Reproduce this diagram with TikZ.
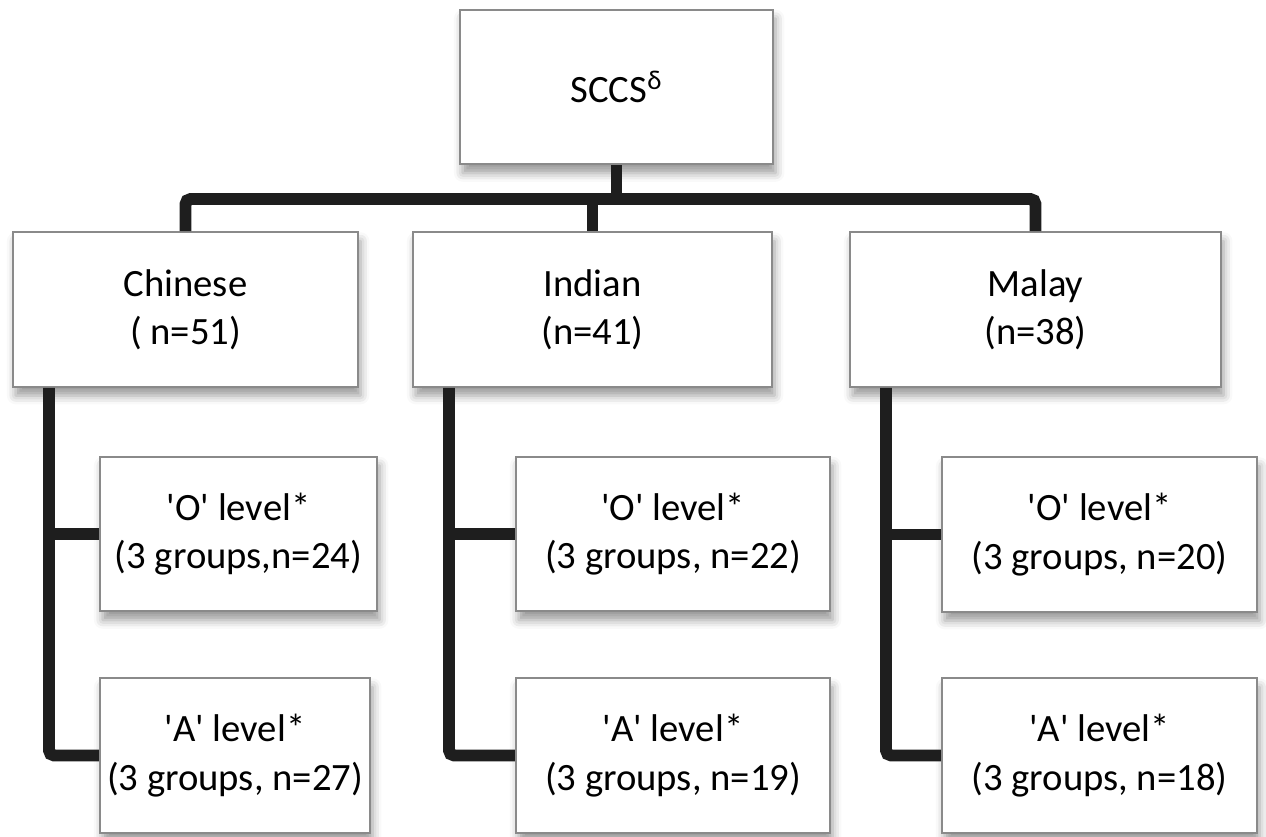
\documentclass[tikz,border=0pt]{standalone}
\usepackage{fontspec}
\setmainfont{Carlito}
\usetikzlibrary{positioning, shadows.blur}
\definecolor{boxgray}{HTML}{8A8A8A}
\definecolor{linkblack}{HTML}{1E1E1E}
\tikzset{
    box/.style = {draw=boxgray, line width=1.2pt, fill=white, align=center,
        minimum height=3.09cm, inner sep=0pt,
        font=\fontsize{22}{27.5}\selectfont,
        blur shadow={shadow xshift=1.5pt, shadow yshift=-5pt,
            shadow blur radius=5pt, shadow opacity=40}},
    link/.style = {draw=linkblack, line width=6.8pt, rounded corners=3pt},
}

\begin{document}
\begin{tikzpicture}[x=0.02cm,y=-0.02cm]
\useasboundingbox (0,0) rectangle (1266,837);

\node[box, minimum width=6.26cm] (sccs) at (616.5,87) {SCCS\textsuperscript{δ}};

\node[box, minimum width=6.9cm]  (chi) at (185.5,309.5) {Chinese\\( n=51)};
\node[box, minimum width=7.18cm] (ind) at (592.5,309.5) {Indian\\(n=41)};
\node[box, minimum width=7.42cm] (mal) at (1035.5,309.5) {Malay\\(n=38)};

\node[box, minimum width=5.54cm] (chi-o) at (238.5,534) {\textquotesingle O\textquotesingle{} level*\\(3 groups,n=24)};
\node[box, minimum width=5.4cm]  (chi-a) at (235,755.5) {\textquotesingle A\textquotesingle{} level*\\(3 groups, n=27)};
\node[box, minimum width=6.28cm] (ind-o) at (673,534) {\textquotesingle O\textquotesingle{} level*\\(3 groups, n=22)};
\node[box, minimum width=6.28cm] (ind-a) at (673,755.5) {\textquotesingle A\textquotesingle{} level*\\(3 groups, n=19)};
\node[box, minimum width=6.3cm]  (mal-o) at (1099.5,534.5) {\textquotesingle O\textquotesingle{} level*\\(3 groups, n=20)};
\node[box, minimum width=6.3cm]  (mal-a) at (1099.5,755.5) {\textquotesingle A\textquotesingle{} level*\\(3 groups, n=18)};

\coordinate (bar) at (617,199);
\draw[link] (sccs.south) -- (sccs.south |- bar);
\draw[link] (chi.north) |- (bar) -| (mal.north);
\draw[link] (ind.north) -- (ind.north |- bar);

\foreach \g in {chi,ind,mal}{
\coordinate (\g-stem) at ([xshift=0.74cm]\g.south west);
\draw[link] (\g-stem) |- (\g-a.west);
\draw[link] (\g-stem |- \g-o.west) -- (\g-o.west);
}

\end{tikzpicture}
\end{document}
